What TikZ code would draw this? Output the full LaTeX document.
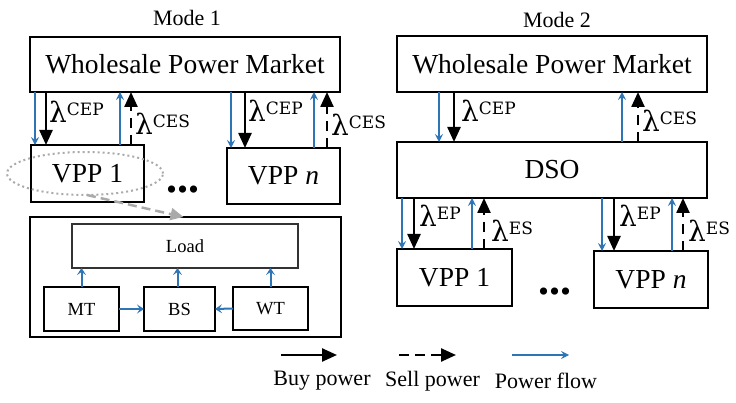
\documentclass[tikz,border=0pt]{standalone}
\usepackage{fontspec}
\setmainfont{Liberation Serif}
\newfontfamily\lblfont{DejaVu Serif}
\usetikzlibrary{arrows.meta,shapes.geometric}
\definecolor{flowblue}{RGB}{46,117,182}
\definecolor{hintgray}{RGB}{170,170,170}
% price symbol with its upper index
\newcommand\pricetag[1]{{\lblfont\fontsize{28}{28}\selectfont λ\raisebox{7.5pt}{\fontsize{17}{17}\selectfont #1}}}
\begin{document}
\begin{tikzpicture}[x=1pt,y=-1pt,
  box/.style={draw, line width=2.6pt, inner sep=0pt, outer sep=0pt, fill=white,
    font=\fontsize{27.5}{30}\selectfont},
  subbox/.style={draw, line width=1.6pt, inner sep=0pt, outer sep=0pt,
    font=\fontsize{18.5}{20}\selectfont},
  title/.style={inner sep=0pt, font=\fontsize{22}{24}\selectfont},
  price/.style={inner sep=0pt, anchor=base west},
  buy/.style={line width=2.4pt, -{Triangle[length=15pt,width=13pt]}},
  sell/.style={buy, dash pattern=on 10pt off 7pt},
  flow/.style={draw=flowblue, line width=1.8pt, -{Stealth[length=8pt,width=8pt,inset=3pt]}},
  subflow/.style={draw=flowblue, line width=2pt, -{Stealth[length=7pt,width=9pt,inset=3pt]}},
  dots/.style={inner sep=0pt, font=\fontsize{44}{44}\selectfont\bfseries},
  legend/.style={inner sep=0pt, font=\fontsize{22}{24}\selectfont}]
\useasboundingbox (0,0) rectangle (736,403);

% ---------------- Mode 1 ----------------
\node[title] (t1) at (187,18) {Mode 1};
\node[box, minimum width=310pt, minimum height=55pt] (wpm1) at (185,64.5) {Wholesale Power Market};
\node[box, minimum width=113pt, minimum height=57pt] (vpp1a) at (87.5,173.5) {VPP 1};
\node[box, minimum width=113pt, minimum height=56pt] (vppna) at (283.5,176) {VPP \textit{n}};
\node[dots] (dotsa) at (183,190) {...};

\coordinate (a1) at ([xshift=4pt]vpp1a.north west);
\coordinate (a2) at ([xshift=15pt]vpp1a.north west);
\coordinate (a3) at ([xshift=-24pt]vpp1a.north east);
\coordinate (a4) at ([xshift=-13pt]vpp1a.north east);
\draw[flow] (a1 |- wpm1.south) -- (a1);
\draw[buy] (a2 |- wpm1.south) -- (a2);
\draw[flow] (a3) -- (a3 |- wpm1.south);
\draw[sell] (a4) -- (a4 |- wpm1.south);

\coordinate (a5) at ([xshift=4pt]vppna.north west);
\coordinate (a6) at ([xshift=18pt]vppna.north west);
\coordinate (a7) at ([xshift=-26pt]vppna.north east);
\coordinate (a8) at ([xshift=-13pt]vppna.north east);
\draw[flow] (a5 |- wpm1.south) -- (a5);
\draw[buy] (a6 |- wpm1.south) -- (a6);
\draw[flow] (a7) -- (a7 |- wpm1.south);
\draw[sell] (a8) -- (a8 |- wpm1.south);

\node[price] (p1) at (49,123) {\pricetag{CEP}};
\node[price] (p2) at (135,135) {\pricetag{CES}};
\node[price] (p3) at (248,122) {\pricetag{CEP}};
\node[price] (p4) at (331,136) {\pricetag{CES}};

% inside view of one VPP
\node[ellipse, draw=hintgray, line width=2pt, dash pattern=on 2pt off 3pt,
  minimum width=156pt, minimum height=43pt, inner sep=0pt, outer sep=0pt] (focus) at (85,173.5) {};
\node[box, fill=none, minimum width=311pt, minimum height=120pt] (detail) at (185.5,277) {};
\draw[hintgray, line width=2.5pt, dash pattern=on 9pt off 5pt,
  -{Triangle[length=13pt,width=12pt]}] ([xshift=2pt]focus.south) -- ([xshift=-2pt]detail.north);
\node[subbox, draw=black!80, line width=1.4pt, minimum width=226pt, minimum height=44pt] (load) at (185,246) {Load};
\node[subbox, minimum width=75pt, minimum height=44pt] (mt) at (81.5,309) {MT};
\node[subbox, minimum width=71pt, minimum height=44pt] (bs) at (179.5,309) {BS};
\node[subbox, minimum width=75pt, minimum height=43pt] (wt) at (270.5,308.5) {WT};
\draw[subflow] (mt.north) -- (mt.north |- load.south);
\draw[subflow] ([xshift=-2pt]bs.north) -- ([xshift=-2pt]bs.north |- load.south);
\draw[subflow] (wt.north) -- (wt.north |- load.south);
\draw[subflow] (mt.east) -- (bs.west);
\draw[subflow] (wt.west) -- (bs.east);

% ---------------- Mode 2 ----------------
\node[title] (t2) at (557,20) {Mode 2};
\node[box, minimum width=310pt, minimum height=56pt] (wpm2) at (552,64) {Wholesale Power Market};
\node[box, minimum width=310pt, minimum height=56pt] (dso) at (552,170) {DSO};
\node[box, minimum width=115pt, minimum height=57pt] (vpp1b) at (454.5,277.5) {VPP 1};
\node[box, minimum width=114pt, minimum height=57pt] (vppnb) at (651,279.5) {VPP \textit{n}};
\node[dots] (dotsb) at (555,292) {...};

\coordinate (b1) at ([xshift=42pt]dso.north west);
\coordinate (b2) at ([xshift=57pt]dso.north west);
\coordinate (b3) at ([xshift=-85pt]dso.north east);
\coordinate (b4) at ([xshift=-69pt]dso.north east);
\draw[flow] (b1 |- wpm2.south) -- (b1);
\draw[buy] (b2 |- wpm2.south) -- (b2);
\draw[flow] (b3) -- (b3 |- wpm2.south);
\draw[sell] (b4) -- (b4 |- wpm2.south);

\coordinate (c1) at ([xshift=5pt]vpp1b.north west);
\coordinate (c2) at ([xshift=17pt]vpp1b.north west);
\coordinate (c3) at ([xshift=-40pt]vpp1b.north east);
\coordinate (c4) at ([xshift=-28pt]vpp1b.north east);
\draw[flow] (c1 |- dso.south) -- (c1);
\draw[buy] (c2 |- dso.south) -- (c2);
\draw[flow] (c3) -- (c3 |- dso.south);
\draw[sell] (c4) -- (c4 |- dso.south);

\coordinate (c5) at ([xshift=8pt]vppnb.north west);
\coordinate (c6) at ([xshift=20pt]vppnb.north west);
\coordinate (c7) at ([xshift=-36pt]vppnb.north east);
\coordinate (c8) at ([xshift=-25pt]vppnb.north east);
\draw[flow] (c5 |- dso.south) -- (c5);
\draw[buy] (c6 |- dso.south) -- (c6);
\draw[flow] (c7) -- (c7 |- dso.south);
\draw[sell] (c8) -- (c8 |- dso.south);

\node[price] (p5) at (461,122) {\pricetag{CEP}};
\node[price] (p6) at (642,132) {\pricetag{CES}};
\node[price] (p7) at (419,227) {\pricetag{EP}};
\node[price] (p8) at (491,242) {\pricetag{ES}};
\node[price] (p9) at (619,227) {\pricetag{EP}};
\node[price] (p10) at (688,242) {\pricetag{ES}};

% ---------------- legend ----------------
\coordinate (lbA) at (281,355);
\coordinate (lbB) at (337,355);
\coordinate (lsA) at (399,355);
\coordinate (lsB) at (456,355);
\coordinate (lfA) at (512,355);
\coordinate (lfB) at (569,355);
\draw[buy] (lbA) -- (lbB);
\draw[sell, dash pattern=on 10pt off 6pt] (lsA) -- (lsB);
\draw[flow, line width=1.6pt] (lfA) -- (lfB);
\node[legend] (lb) at (322,381) {Buy power};
\node[legend] (ls) at (432.5,381) {Sell power};
\node[legend] (lf) at (546,381) {Power flow};
\end{tikzpicture}
\end{document}
